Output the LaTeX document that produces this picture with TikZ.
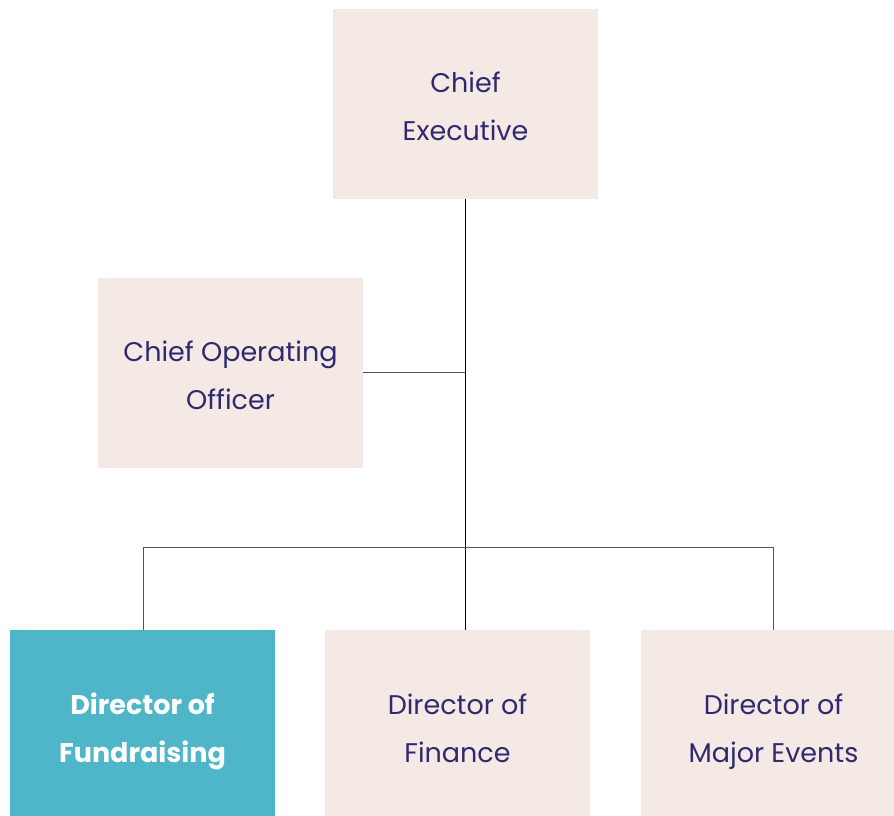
\documentclass[tikz,border=0pt]{standalone}
\usepackage{fontspec}
\setmainfont{Poppins}
\definecolor{boxfill}{HTML}{F4E9E4}
\definecolor{teal}{HTML}{4FB5C9}
\definecolor{navy}{HTML}{2F2A70}
\definecolor{linegray}{HTML}{555555}
\newcommand{\ls}{\rule[-11.4pt]{0pt}{48pt}}
\begin{document}
\begin{tikzpicture}[x=1pt,y=-1pt,
  orgbox/.style={fill=boxfill,text=navy,minimum width=265pt,minimum height=190pt,align=center,inner sep=0pt,
    font=\fontsize{27}{48}\selectfont},
  hibox/.style={orgbox,fill=teal,text=white,font=\fontsize{27}{48}\selectfont\bfseries},
  link/.style={draw=linegray,line width=1pt},
  trunk/.style={draw=black,line width=0.8pt}]
\useasboundingbox (0,0) rectangle (894,816);
\begin{scope}
\clip (0,0) rectangle (894,816);
\node[orgbox] (ce) at (465.5,104) {\ls Chief\\\ls Executive};
\node[orgbox] (coo) at (230.5,373) {\ls Chief Operating\\\ls Officer};
\node[hibox,minimum height=192pt] (fund) at (142.5,726) {\ls Director of\\\ls Fundraising};
\node[orgbox,minimum height=192pt] (fin) at (457.5,726) {\ls Director of\\\ls Finance};
\node[orgbox,minimum height=192pt] (maj) at (773.5,726) {\ls Director of\\\ls Major Events};
\coordinate (mid) at (465,372);
\coordinate (bar) at (465,547);
\coordinate (barL) at (143,547);
\coordinate (barR) at (773,547);
\draw[trunk] (ce.south -| mid) -- (fin.north -| mid);
\draw[link] (coo.east |- mid) -- (mid);
\draw[link] (fund.north -| barL) -- (barL) -- (barR) -- (maj.north -| barR);
\end{scope}
\end{tikzpicture}
\end{document}
